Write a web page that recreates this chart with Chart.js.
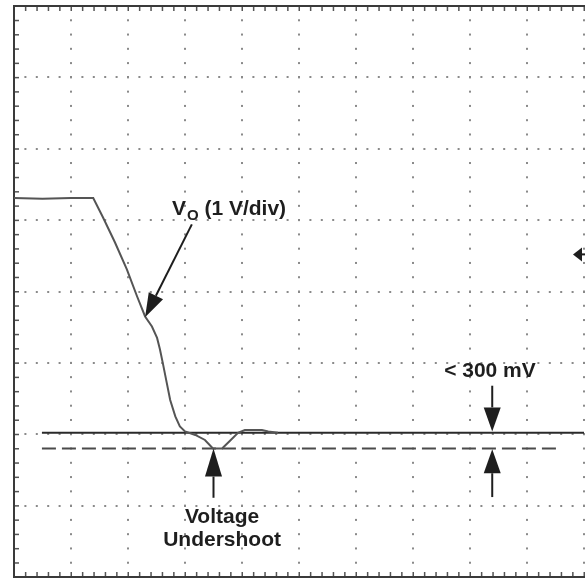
<!DOCTYPE html>
<html>
<head>
<meta charset="utf-8">
<script src="https://cdn.jsdelivr.net/npm/chart.js@4"></script>
<style>
html,body{margin:0;padding:0;background:#fff;}
#wrap{width:585px;height:578px;}
</style>
</head>
<body>
<div id="wrap"><canvas id="c" width="585" height="578"></canvas></div>
<script>
// Time axis in divisions (10 div), voltage axis in divisions (8 div, 1 V/div)
const traceX = [0, 0.5, 1.0, 1.39, 1.56, 1.77, 1.98, 2.16, 2.30, 2.42, 2.51, 2.56, 2.61, 2.68, 2.74, 2.83, 2.91, 3.00, 3.18, 3.35, 3.49, 3.65, 3.79, 3.93, 4.05, 4.35, 4.46, 4.63];
const traceY = [5.31, 5.30, 5.31, 5.31, 5.04, 4.69, 4.31, 3.93, 3.65, 3.51, 3.35, 3.19, 3.00, 2.72, 2.48, 2.25, 2.11, 2.04, 1.99, 1.92, 1.80, 1.80, 1.91, 2.02, 2.06, 2.06, 2.04, 2.02];
const steadyX = [0.49, 10];
const steadyY = [2.02, 2.02];
const undershootX = [0.49, 9.51];
const undershootY = [1.80, 1.80];
const xDivisions = 10;
const yDivisions = 8;

const toPts = (xs, ys) => xs.map((x, i) => ({x: x, y: ys[i]}));

const FONT = 'bold 21px "Liberation Sans", Arial, sans-serif';
const INK = '#1e1e1e';

function arrow(ctx, x1, y1, x2, y2, len, half) {
  const ang = Math.atan2(y2 - y1, x2 - x1);
  const bx = x2 - len * Math.cos(ang), by = y2 - len * Math.sin(ang);
  ctx.beginPath();
  ctx.moveTo(x1, y1); ctx.lineTo(bx, by);
  ctx.lineWidth = 2; ctx.strokeStyle = INK; ctx.stroke();
  ctx.beginPath();
  ctx.moveTo(x2, y2);
  ctx.lineTo(bx + half * Math.sin(ang), by - half * Math.cos(ang));
  ctx.lineTo(bx - half * Math.sin(ang), by + half * Math.cos(ang));
  ctx.closePath(); ctx.fillStyle = INK; ctx.fill();
}

const graticule = {
  id: 'graticule',
  beforeDatasetsDraw(chart) {
    const ctx = chart.ctx, xs = chart.scales.x, ys = chart.scales.y;
    const a = chart.chartArea;
    ctx.save();
    ctx.fillStyle = '#8a8a8a';
    // vertical dotted lines
    for (let i = 1; i <= xDivisions; i++) {
      const px = Math.round(xs.getPixelForValue(i));
      for (let j = 0; j <= yDivisions * 5; j++) {
        const py = ys.getPixelForValue(j / 5);
        ctx.fillRect(px - 1, py - 1, 2, 2);
      }
    }
    // horizontal dotted lines
    for (let i = 1; i < yDivisions; i++) {
      const py = Math.round(ys.getPixelForValue(i));
      for (let j = 0; j <= xDivisions * 5; j++) {
        const px = xs.getPixelForValue(j / 5);
        ctx.fillRect(px - 1, py - 1, 2, 2);
      }
    }
    // border ticks
    ctx.fillStyle = '#555';
    for (let j = 0; j <= xDivisions * 5; j++) {
      const px = xs.getPixelForValue(j / 5);
      ctx.fillRect(px - 0.5, a.top, 1.5, 5);
      ctx.fillRect(px - 0.5, a.bottom - 5, 1.5, 5);
    }
    for (let j = 0; j <= yDivisions * 5; j++) {
      const py = ys.getPixelForValue(j / 5);
      ctx.fillRect(a.left, py - 0.5, 5, 1.5);
    }
    // borders (left, top, bottom)
    ctx.strokeStyle = '#3a3a3a';
    ctx.lineWidth = 2;
    ctx.beginPath();
    ctx.moveTo(a.right + 2, a.top); ctx.lineTo(a.left, a.top);
    ctx.lineTo(a.left, a.bottom); ctx.lineTo(a.right + 2, a.bottom);
    ctx.stroke();
    ctx.restore();
  },
  afterDatasetsDraw(chart) {
    const ctx = chart.ctx, xs = chart.scales.x, ys = chart.scales.y;
    const X = v => xs.getPixelForValue(v), Y = v => ys.getPixelForValue(v);
    ctx.save();
    ctx.fillStyle = INK;
    ctx.textBaseline = 'alphabetic';
    // V_O (1 V/div)
    ctx.font = FONT; ctx.textAlign = 'left';
    let tx = X(2.77), ty = Y(5.07);
    ctx.fillText('V', tx, ty);
    const vw = ctx.measureText('V').width;
    ctx.font = 'bold 15px "Liberation Sans", Arial, sans-serif';
    ctx.fillText('O', tx + vw + 1, ty + 5);
    const ow = ctx.measureText('O').width;
    ctx.font = FONT;
    ctx.fillText(' (1 V/div)', tx + vw + ow + 1, ty);
    arrow(ctx, X(3.12), Y(4.94), X(2.30), Y(3.64), 24, 8);
    // < 300 mV
    ctx.textAlign = 'center';
    ctx.fillText('< 300 mV', X(8.35), Y(2.80));
    arrow(ctx, X(8.39), Y(2.68), X(8.39), Y(2.04), 24, 8.5);
    arrow(ctx, X(8.39), Y(1.12), X(8.39), Y(1.79), 24, 8.5);
    // Voltage Undershoot
    ctx.fillText('Voltage', X(3.65), Y(0.76));
    ctx.fillText('Undershoot', X(3.65), Y(0.435));
    arrow(ctx, X(3.50), Y(1.11), X(3.50), Y(1.80), 28, 8.5);
    // channel marker at right edge
    const mx = X(10) - 11, my = Y(4.52);
    ctx.beginPath();
    ctx.moveTo(mx, my); ctx.lineTo(mx + 9, my - 7); ctx.lineTo(mx + 9, my + 7); ctx.closePath();
    ctx.fill();
    ctx.fillRect(mx + 8, my - 1, 6, 2);
    ctx.restore();
  }
};

new Chart(document.getElementById('c'), {
  type: 'line',
  data: {
    datasets: [
      {data: toPts(traceX, traceY), borderColor: '#555', borderWidth: 2, pointRadius: 0, tension: 0},
      {data: toPts(steadyX, steadyY), borderColor: '#2a2a2a', borderWidth: 2, pointRadius: 0},
      {data: toPts(undershootX, undershootY), borderColor: '#4a4a4a', borderWidth: 2, borderDash: [14, 6], pointRadius: 0}
    ]
  },
  options: {
    responsive: false,
    animation: false,
    events: [],
    layout: {padding: {left: 14, top: 6, right: 1, bottom: 1}},
    plugins: {legend: {display: false}, tooltip: {enabled: false}},
    scales: {
      x: {type: 'linear', min: 0, max: xDivisions, display: false},
      y: {type: 'linear', min: 0, max: yDivisions, display: false}
    }
  },
  plugins: [graticule]
});
</script>
</body>
</html>
